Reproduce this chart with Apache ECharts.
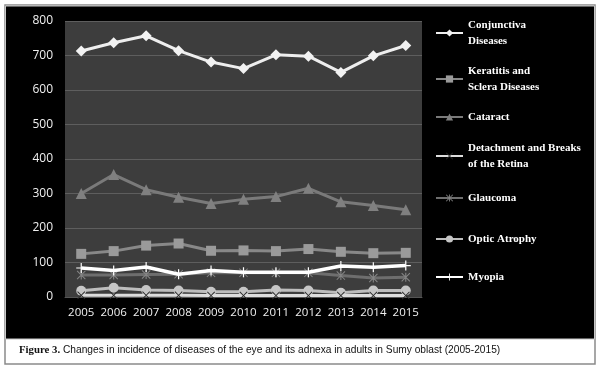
<!DOCTYPE html>
<html><head><meta charset="utf-8">
<script src="https://cdn.jsdelivr.net/npm/echarts@6/dist/echarts.min.js"></script>
<style>html,body{margin:0;padding:0;background:#fff}#c{width:600px;height:369px}</style>
</head><body><div id="c"></div>
<script>
var years = ['2005','2006','2007','2008','2009','2010','2011','2012','2013','2014','2015'];
var conjunctiva = [713, 737, 757, 714, 681, 662, 702, 698, 651, 699, 729];
var keratitis   = [125, 133, 149, 155, 134, 135, 133, 139, 131, 127, 128];
var cataract    = [300, 355, 311, 289, 271, 283, 291, 315, 276, 265, 253];
var detachment  = [5, 5, 5, 5, 4, 4, 4, 4, 4, 4, 4];
var glaucoma    = [64, 64, 65, 66, 70, 70, 70, 70, 62, 55, 57];
var optic       = [18, 27, 20, 19, 15, 15, 20, 19, 12, 19, 19];
var myopia      = [84, 77, 87, 66, 77, 72, 72, 72, 90, 86, 91];
var yTicks = [0, 100, 200, 300, 400, 500, 600, 700, 800];

var names = ['Conjunctiva Diseases','Keratitis and Sclera Diseases','Cataract','Detachment and Breaks of the Retina','Glaucoma','Optic Atrophy','Myopia'];
var legendLabels = ['Conjunctiva\nDiseases','Keratitis and\nSclera Diseases','Cataract','Detachment and Breaks\nof the Retina','Glaucoma','Optic Atrophy','Myopia'];
var legendCenters = [33, 79, 117, 156, 198, 239, 277];

var plusPath = 'path://M4.4,0H5.6V4.4H10V5.6H5.6V10H4.4V5.6H0V4.4H4.4Z';
var xPath = 'path://M0,0.8L0.8,0L10,9.2L9.2,10Z M9.2,0L10,0.8L0.8,10L0,9.2Z';
var starPath = 'path://M4.4,0H5.6V10H4.4Z M0,0.8L0.8,0L10,9.2L9.2,10Z M9.2,0L10,0.8L0.8,10L0,9.2Z';

var chart = echarts.init(document.getElementById('c'), null, {renderer:'canvas'});

function mkSeries(name, data, lineColor, width, symbol, size, symColor, z) {
  return {
    name: name, type: 'line', data: data, z: z || 2,
    symbol: symbol, symbolSize: size, showSymbol: true,
    lineStyle: {color: lineColor, width: width},
    itemStyle: {color: symColor, borderWidth: 0},
    emphasis: {disabled: true}, animation: false, clip: false
  };
}

var legends = names.map(function(n, i){
  var twoLine = legendLabels[i].indexOf('\n') >= 0;
  return {
    data: [n], left: 435, top: legendCenters[i] - (twoLine ? 16 : 8), padding: 0,
    orient: 'vertical', itemWidth: 27, itemHeight: 9, itemGap: 0,
    formatter: function(){ return legendLabels[i]; },
    textStyle: {color: '#fff', fontFamily: 'Liberation Serif', fontWeight: 'bold', fontSize: 11, lineHeight: 16},
    selectedMode: false
  };
});

chart.setOption({
  backgroundColor: '#ffffff',
  animation: false,
  graphic: [
    {type:'rect', z:-10, shape:{x:5, y:5, width:590, height:359}, style:{fill:'#ffffff', stroke:'#8a8a8a', lineWidth:1.5}},
    {type:'rect', z:-9, shape:{x:5.5, y:6, width:589, height:333}, style:{fill:'#000000', stroke:'#c8c8c8', lineWidth:1}},
    {type:'text', z:5, x:19, y:345, style:{
      text:'{b|Figure 3.} Changes in incidence of diseases of the eye and its adnexa in adults in Sumy oblast (2005-2015)',
      font:'10.2px "Liberation Sans Narrow", "Liberation Sans"', fill:'#111',
      rich:{b:{fontWeight:'bold', fontFamily:'Liberation Sans Narrow', fontSize:10.8, fill:'#111'}}
    }}
  ],
  grid: {left: 65, top: 21, right: 178, bottom: 72, show: true, backgroundColor: '#3d3d3d', borderWidth: 0},
  legend: legends,
  xAxis: {
    type: 'category', data: years, boundaryGap: true,
    axisLine: {show: true, lineStyle: {color: '#555', width: 1}},
    axisTick: {show: false},
    axisLabel: {color: '#f0f0f0', fontFamily: 'Open Sans', fontSize: 11.5, margin: 10, interval: 0}
  },
  yAxis: {
    type: 'value', min: yTicks[0], max: yTicks[yTicks.length-1], interval: 100,
    axisLine: {show: false}, axisTick: {show: false},
    splitLine: {lineStyle: {color: '#5e5e5e', width: 1}},
    axisLabel: {color: '#f0f0f0', fontFamily: 'Open Sans', fontSize: 12, margin: 12}
  },
  series: [
    mkSeries(names[0], conjunctiva, '#eeeeee', 3, 'diamond', 11, '#f2f2f2', 3),
    mkSeries(names[1], keratitis, '#888888', 3, 'rect', 10, '#9a9a9a', 3),
    mkSeries(names[2], cataract, '#7a7a7a', 3, 'triangle', 11, '#808080', 3),
    mkSeries(names[4], glaucoma, '#6e6e6e', 3, starPath, 9, '#858585', 3),
    mkSeries(names[5], optic, '#bdbdbd', 3, 'circle', 10, '#c6c6c6', 3),
    mkSeries(names[3], detachment, '#dddddd', 3, xPath, 8, '#2a2a2a', 4),
    mkSeries(names[6], myopia, '#ffffff', 3.5, plusPath, 10, '#ffffff', 5)
  ]
});
</script></body></html>
